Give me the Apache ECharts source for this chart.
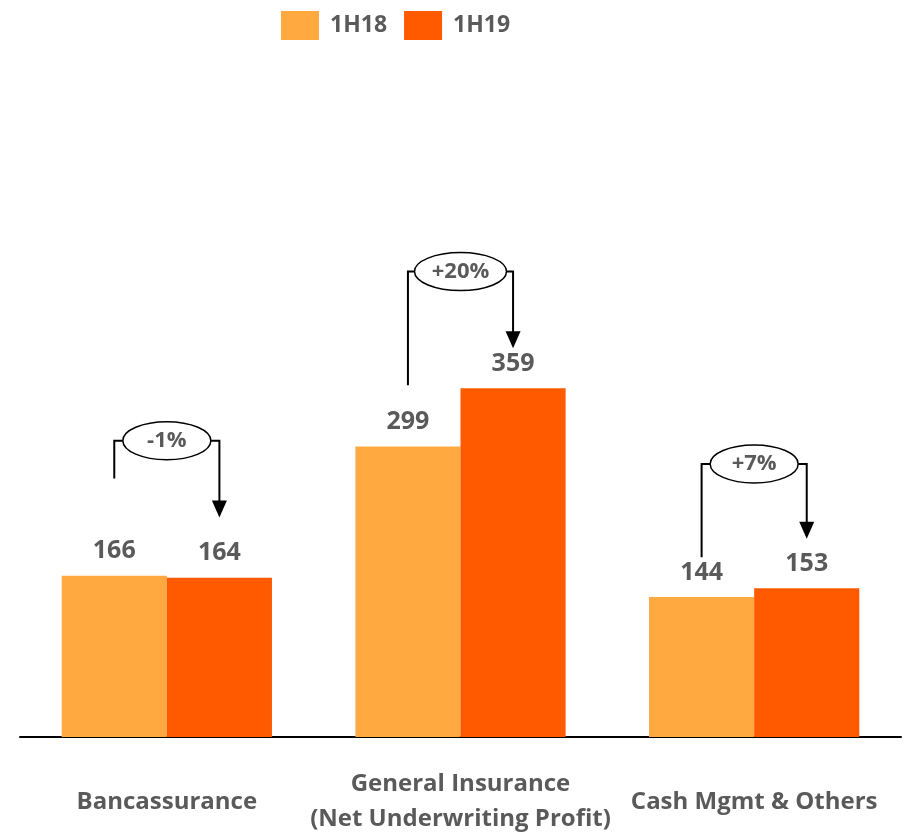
<!DOCTYPE html>
<html>
<head>
<meta charset="utf-8">
<script src="https://cdn.jsdelivr.net/npm/echarts@6/dist/echarts.min.js"></script>
<style>
  html, body { margin: 0; padding: 0; background: #fff; }
  #chart { width: 904px; height: 833px; }
</style>
</head>
<body>
<div id="chart"></div>
<script>
// chart data
const categories = ['Bancassurance', 'General Insurance\n(Net Underwriting Profit)', 'Cash Mgmt & Others'];
const seriesNames = ['1H18', '1H19'];
const values1H18 = [166, 299, 144];
const values1H19 = [164, 359, 153];
const growthLabels = ['-1%', '+20%', '+7%'];
// annotation levels (in value units): bracket top, left leg start, arrow tip
const bracketTop = [305, 479, 281];
const bracketStart = [266, 362, 185];
const arrowTip = [226, 400, 204];

const colors = ['#FFA940', '#FF5A00'];
const textColor = '#5a5a5a';
const font = '"Open Sans", sans-serif';
const barRatio = 0.358;

const bracketData = categories.map(function (c, i) {
    return [i, bracketTop[i], bracketStart[i], arrowTip[i]];
});

function renderBracket(params, api) {
    const i = api.value(0);
    const band = api.size([1, 0])[0];
    const half = band * barRatio / 2;
    const top = api.coord([i, api.value(1)]);
    const cx = top[0], yTop = top[1];
    const xl = cx - half, xr = cx + half;
    const yStart = api.coord([i, api.value(2)])[1];
    const yEnd = api.coord([i, api.value(3)])[1];
    const rx = growthLabels[params.dataIndex].length > 3 ? 46 : 44, ry = 19;
    const lineStyle = { stroke: '#000', lineWidth: 2, fill: null };
    return {
        type: 'group',
        children: [
            { type: 'polyline', shape: { points: [[xl, yStart], [xl, yTop], [cx - rx, yTop]] }, style: lineStyle },
            { type: 'polyline', shape: { points: [[cx + rx, yTop], [xr, yTop], [xr, yEnd - 14]] }, style: lineStyle },
            { type: 'polygon', shape: { points: [[xr - 7.5, yEnd - 17], [xr + 7.5, yEnd - 17], [xr, yEnd]] }, style: { fill: '#000' } },
            {
                type: 'path',
                shape: {
                    pathData: 'M' + (cx - rx) + ' ' + yTop + ' A' + rx + ' ' + ry + ' 0 1 0 ' + (cx + rx) + ' ' + yTop +
                        ' A' + rx + ' ' + ry + ' 0 1 0 ' + (cx - rx) + ' ' + yTop + ' Z',
                    x: cx - rx, y: yTop - ry, width: rx * 2, height: ry * 2
                },
                style: { fill: '#fff', stroke: '#000', lineWidth: 1.5 }
            },
            {
                type: 'text', x: cx, y: yTop,
                style: {
                    text: growthLabels[params.dataIndex], align: 'center', verticalAlign: 'middle',
                    fill: textColor, font: 'bold 22px ' + font
                }
            }
        ]
    };
}

const chart = echarts.init(document.getElementById('chart'));
chart.setOption({
    animation: false,
    color: colors,
    legend: {
        data: seriesNames,
        left: 276, top: 6,
        icon: 'rect',
        itemWidth: 38, itemHeight: 29, itemGap: 17,
        textStyle: { color: textColor, fontSize: 23, fontWeight: 'bold', fontFamily: font, padding: [0, 0, 0, 6] }
    },
    grid: { left: 20, right: 3, top: 154, bottom: 96, outerBoundsMode: 'none' },
    xAxis: {
        type: 'category',
        data: categories,
        axisLine: { lineStyle: { color: '#000', width: 2 } },
        axisTick: { show: false },
        axisLabel: {
            interval: 0, margin: 65, verticalAlign: 'middle', lineHeight: 35,
            color: textColor, fontSize: 24, fontWeight: 'bold', fontFamily: font
        }
    },
    yAxis: { type: 'value', min: 0, max: 600, show: false, splitLine: { show: false } },
    series: [
        {
            name: seriesNames[0], type: 'bar', data: values1H18,
            barWidth: (barRatio * 100) + '%', barGap: '0%',
            label: { show: true, position: 'top', distance: 12, color: textColor, fontSize: 25, fontWeight: 'bold', fontFamily: font }
        },
        {
            name: seriesNames[1], type: 'bar', data: values1H19,
            barWidth: (barRatio * 100) + '%', barGap: '0%',
            label: { show: true, position: 'top', distance: 12, color: textColor, fontSize: 25, fontWeight: 'bold', fontFamily: font }
        },
        {
            type: 'custom', data: bracketData, renderItem: renderBracket,
            encode: { x: 0, y: 1 }, z: 10, silent: true
        }
    ]
});
window.onresize = function () { chart.resize(); };
</script>
</body>
</html>
